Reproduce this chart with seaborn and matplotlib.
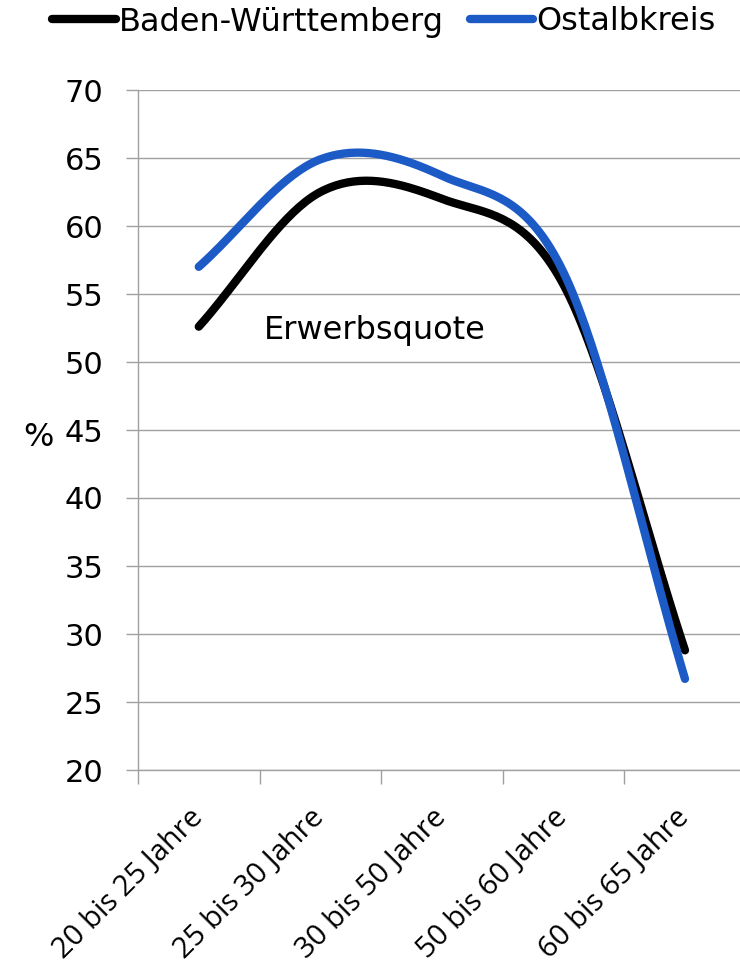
import numpy as np
import pandas as pd

import matplotlib as mpl
mpl.use("Agg")
import matplotlib.pyplot as plt
from matplotlib.ticker import FixedLocator

import seaborn as sns

# data (Erwerbsquote in %)
age_groups = ["20 bis 25 Jahre", "25 bis 30 Jahre", "30 bis 50 Jahre",
              "50 bis 60 Jahre", "60 bis 65 Jahre"]
bw = [52.6, 62.5, 62.0, 55.7, 28.8]
ostalb = [57.0, 64.9, 63.7, 56.6, 26.7]
series_names = ["Baden-Württemberg", "Ostalbkreis"]
y_ticks = [20, 25, 30, 35, 40, 45, 50, 55, 60, 65, 70]

sns.set_style("white")
plt.rcParams['font.family'] = ['DejaVu Sans']
plt.rcParams['text.color'] = 'black'
plt.rcParams['axes.labelcolor'] = 'black'


def excel_smooth(values, n=40):
    # cubic hermite curve through the points, roughly like Excel's "smoothed line"
    y = np.asarray(values, float)
    k = len(y)
    m = np.empty(k)
    m[1:-1] = (y[2:] - y[:-2]) / 2
    m[0] = y[1] - y[0]
    m[-1] = y[-1] - y[-2]
    xs, ys = [], []
    for i in range(k - 1):
        t = np.linspace(0, 1, n, endpoint=(i == k - 2))
        h00 = 2 * t**3 - 3 * t**2 + 1
        h10 = t**3 - 2 * t**2 + t
        h01 = -2 * t**3 + 3 * t**2
        h11 = t**3 - t**2
        xs.append(i + t)
        ys.append(h00 * y[i] + h10 * m[i] + h01 * y[i + 1] + h11 * m[i + 1])
    return np.concatenate(xs), np.concatenate(ys)


frames = []
for name, vals in zip(series_names, [bw, ostalb]):
    sx, sy = excel_smooth(vals)
    frames.append(pd.DataFrame({'x': sx, 'y': sy, 'Region': name}))
df = pd.concat(frames, ignore_index=True)

fig = plt.figure(figsize=(7.4, 9.65), dpi=100)
ax = fig.add_axes([138 / 740, 1 - 770 / 965, (740 - 138) / 740, 680 / 965])

sns.lineplot(data=df, x='x', y='y', hue='Region', sort=False, estimator=None,
             palette={'Baden-Württemberg': '#000000', 'Ostalbkreis': '#1c5bc6'},
             linewidth=6, ax=ax)
for line in ax.get_lines():
    line.set_solid_capstyle('round')

ax.set_xlim(-0.5, (740 - 199) / 121.5)
ax.set_ylim(20, 70)

# y axis
ax.set_yticks(y_ticks)
ax.tick_params(axis='y', labelsize=22, labelcolor='black', length=9, width=1,
               color='#a0a0a0', pad=16, direction='out', left=True)
ax.yaxis.grid(True, color='#a0a0a0', linewidth=1.0)
ax.set_ylabel('%', rotation=0, fontsize=23, ha='center', va='center')
ax.yaxis.set_label_coords((38 - 138) / 602, (770 - 437) / 680)

# x axis: labels at category centers, tick marks at the boundaries
ax.set_xticks(range(len(age_groups)))
ax.set_xticklabels(age_groups, rotation=45, ha='right', va='center',
                   rotation_mode='anchor', fontsize=21, color='black',
                   family=['Open Sans', 'DejaVu Sans'])
ax.tick_params(axis='x', which='major', length=0, pad=31)
ax.xaxis.set_minor_locator(FixedLocator(np.arange(-0.5, len(age_groups) - 0.5, 1)))
ax.tick_params(axis='x', which='minor', length=10, width=1, color='#a0a0a0',
               direction='out', bottom=True)
ax.set_xlabel('')

for side in ['top', 'right']:
    ax.spines[side].set_visible(False)
for side in ['left', 'bottom']:
    ax.spines[side].set_color('#a0a0a0')
    ax.spines[side].set_linewidth(1.0)

ax.text(1.45, 52.35, 'Erwerbsquote', fontsize=23, ha='center', va='center')

handles, labels = ax.get_legend_handles_labels()
ax.get_legend().remove()
leg = fig.legend(handles, labels, loc='center', bbox_to_anchor=(384 / 740, 1 - 22 / 965),
                 ncol=2, frameon=False, fontsize=23, handlelength=2.0,
                 handletextpad=0.1, columnspacing=0.8)
for h in leg.get_lines():
    h.set_linewidth(6)

fig.savefig('out.png', dpi=100)
